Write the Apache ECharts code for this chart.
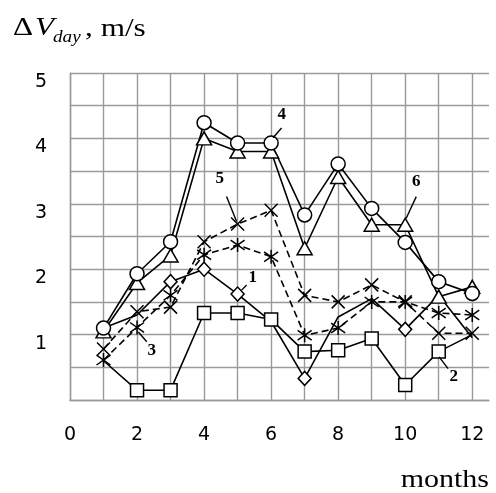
<!DOCTYPE html>
<html>
<head>
<meta charset="utf-8">
<script src="https://cdn.jsdelivr.net/npm/echarts@6/dist/echarts.min.js"></script>
<style>
html,body{margin:0;padding:0;background:#fff;}
#chart{width:496px;height:493px;}
</style>
</head>
<body>
<div id="chart"></div>
<script>
// ---- data ----
const months = [1, 2, 3, 4, 5, 6, 7, 8, 9, 10, 11, 12];
const xTickLabels = [0, 2, 4, 6, 8, 10, 12];
const yTickLabels = [1, 2, 3, 4, 5];
const series1 = [1.10, 1.30, 1.81, 2.00, 1.62, 1.20, 0.33, 1.27, 1.55, 1.08, 1.60, 0.95]; // diamonds
const series2 = [0.60, 0.15, 0.15, 1.33, 1.33, 1.23, 0.74, 0.76, 0.94, 0.23, 0.74, 1.00]; // squares
const series3 = [0.61, 1.11, 1.60, 2.22, 2.37, 2.19, 0.99, 1.10, 1.50, 1.50, 1.33, 1.30]; // asterisks, dashed
const series4 = [1.10, 1.93, 2.42, 4.24, 3.93, 3.93, 2.83, 3.61, 2.93, 2.41, 1.81, 1.63]; // circles
const series5 = [0.78, 1.35, 1.42, 2.42, 2.69, 2.90, 1.60, 1.50, 1.76, 1.50, 1.02, 1.02]; // crosses, dashed
const series6 = [1.05, 1.79, 2.21, 4.00, 3.80, 3.80, 2.32, 3.41, 2.68, 2.68, 1.58, 1.73]; // triangles
// months whose marker is covered by another curve's marker in the reference
const series1Covered = [1, 2, 6, 8, 9, 11, 12];
const series2Covered = [1, 12];

// curve labels: text, label position, leader line start/end (data coords)
const curveLabels = ['1', '2', '3', '4', '5', '6'];
const labelPos  = [[5.45, 1.87], [11.45, 0.36], [2.44, 0.76], [6.32, 4.36], [4.47, 3.39], [10.33, 3.34]];
const leaderFrom = [[5.27, 1.76], [11.28, 0.48], [2.29, 0.89], [6.31, 4.16], [4.67, 3.11], [10.33, 3.11]];
const leaderTo   = [[5.12, 1.68], [11.01, 0.66], [2.04, 1.04], [6.06, 4.01], [4.97, 2.73], [10.03, 2.78]];

const chart = echarts.init(document.getElementById('chart'), null, {renderer: 'canvas'});

function items(arr, covered) {
  return months.map((m, i) => {
    const it = {value: [m, arr[i]]};
    if (covered && covered.indexOf(m) >= 0) it.symbolSize = 0;
    return it;
  });
}
function mk(name, arr, symbol, size, dashed, covered) {
  return {
    name: name, type: 'line', data: items(arr, covered),
    symbol: symbol, symbolSize: size, showAllSymbol: true,
    lineStyle: {color: '#000', width: 1.6, type: dashed ? [7, 4] : 'solid'},
    itemStyle: {color: '#fff', borderColor: '#000', borderWidth: 1.5},
    emphasis: {disabled: true},
    z: 3
  };
}

const grayLine = {color: '#9a9a9a', width: 1.4};
const tickFont = {color: '#000', fontSize: 19, fontFamily: 'DejaVu Sans'};

chart.setOption({
  animation: false,
  backgroundColor: '#fff',
  grid: {left: 70, top: 73, right: 7, bottom: 93, containLabel: false},
  xAxis: {
    type: 'value', min: 0, max: 12.5, interval: 1,
    axisLine: {show: true, lineStyle: grayLine},
    axisTick: {show: false},
    splitLine: {show: true, showMaxLine: false, lineStyle: grayLine},
    axisLabel: Object.assign({
      margin: 26, showMaxLabel: true,
      formatter: v => xTickLabels.indexOf(v) >= 0 ? String(v) : ''
    }, tickFont)
  },
  yAxis: {
    type: 'value', min: 0, max: 5, interval: 0.5,
    axisLine: {show: true, lineStyle: grayLine},
    axisTick: {show: false},
    splitLine: {show: true, lineStyle: grayLine},
    axisLabel: Object.assign({
      margin: 23,
      formatter: v => yTickLabels.indexOf(v) >= 0 ? '{a|' + v + '}' : '',
      rich: {a: Object.assign({padding: [18, 0, 0, 0]}, tickFont)}
    }, tickFont)
  },
  series: [
    mk('2', series2, 'rect', 13, false, series2Covered),
    mk('1', series1, 'diamond', [13, 14], false, series1Covered),
    mk('3', series3, 'path://M5,0L5,10M0,1.5L10,8.5M10,1.5L0,8.5', 14, true),
    mk('5', series5, 'path://M0,0L10,10M10,0L0,10', 13, true),
    mk('6', series6, 'triangle', [15, 13], false),
    mk('4', series4, 'circle', 14, false)
  ]
});

const gfx = [
  {type: 'text', x: 13, y: 28, scaleX: 1.2, style: {text: 'Δ', font: '26px "Liberation Serif"', fill: '#000', verticalAlign: 'middle'}},
  {type: 'text', x: 35, y: 28, scaleX: 1.2, style: {text: 'V', font: 'italic 26px "Liberation Serif"', fill: '#000', verticalAlign: 'middle'}},
  {type: 'text', x: 53, y: 38, scaleX: 1.2, style: {text: 'day', font: 'italic 16px "Liberation Serif"', fill: '#000', verticalAlign: 'middle'}},
  {type: 'text', x: 85, y: 29, scaleX: 1.25, style: {text: ', m/s', font: '25px "Liberation Serif"', fill: '#000', verticalAlign: 'middle'}},
  {type: 'text', x: 489, y: 480, scaleX: 1.2, style: {text: 'months', font: '25px "Liberation Serif"', fill: '#000', align: 'right', verticalAlign: 'middle'}}
];
curveLabels.forEach((t, i) => {
  const p = chart.convertToPixel({gridIndex: 0}, labelPos[i]);
  const a = chart.convertToPixel({gridIndex: 0}, leaderFrom[i]);
  const b = chart.convertToPixel({gridIndex: 0}, leaderTo[i]);
  gfx.push({type: 'line', shape: {x1: a[0], y1: a[1], x2: b[0], y2: b[1]}, style: {stroke: '#000', lineWidth: 1.4}, z: 10});
  gfx.push({type: 'text', x: p[0], y: p[1], z: 10, style: {text: t, font: 'bold 17px "Liberation Serif"', fill: '#000', align: 'center', verticalAlign: 'middle'}});
});
chart.setOption({graphic: gfx});
</script>
</body>
</html>
